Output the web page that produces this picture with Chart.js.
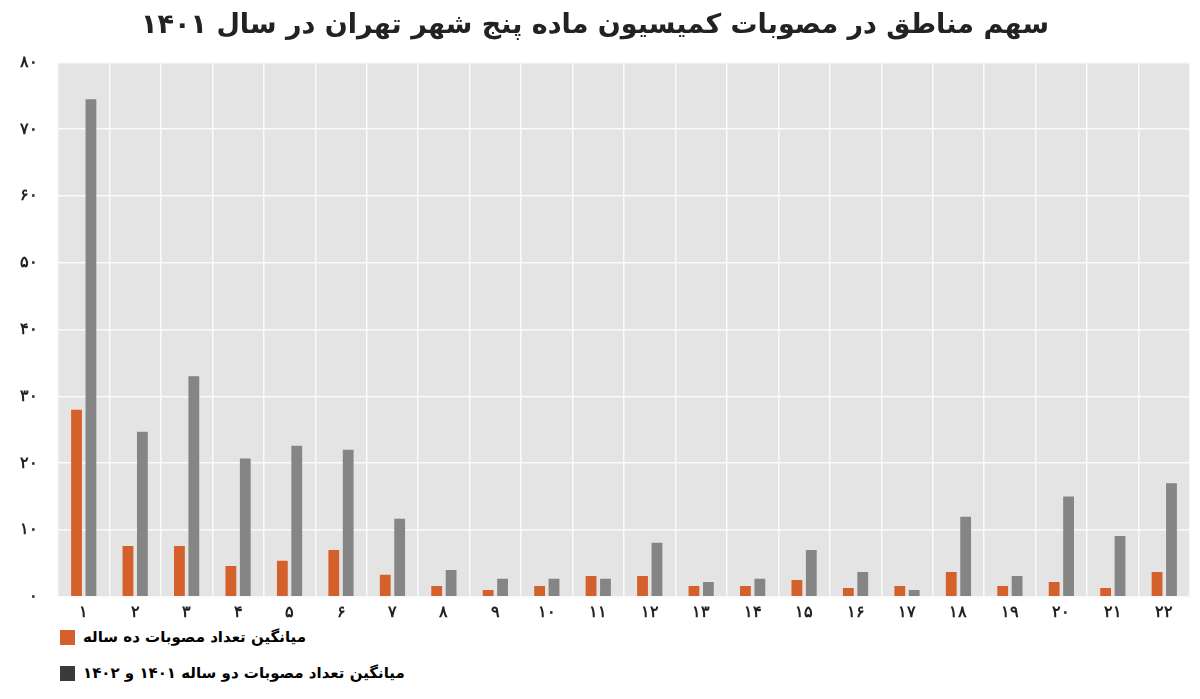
<!DOCTYPE html>
<html><head><meta charset="utf-8">
<script src="https://cdn.jsdelivr.net/npm/chart.js@4/dist/chart.umd.min.js"></script>
<style>
body{margin:0;background:#fff;font-family:"DejaVu Sans",sans-serif;}
#wrap{position:relative;width:1200px;height:628px;}
.lg{position:absolute;left:60px;font:bold 15px "DejaVu Sans";display:flex;align-items:center;direction:ltr}
.lg span.b{display:inline-block;width:15px;height:15px;margin-right:8px}
</style></head><body>
<div id="wrap"><canvas id="c" width="1200" height="628" style="width:1200px;height:628px"></canvas></div>
<div class="lg" style="top:628px"><span class="b" style="background:#d4602c"></span><span dir="rtl">میانگین تعداد مصوبات ده ساله</span></div>
<div class="lg" style="top:664px"><span class="b" style="background:#3a3a3a"></span><span dir="rtl">میانگین تعداد مصوبات دو ساله ۱۴۰۱ و ۱۴۰۲</span></div>
<script>
var regions = ["۱","۲","۳","۴","۵","۶","۷","۸","۹","۱۰","۱۱","۱۲","۱۳","۱۴","۱۵","۱۶","۱۷","۱۸","۱۹","۲۰","۲۱","۲۲"];
var tenYear = [28,7.6,7.6,4.6,5.4,7,3.3,1.6,1,1.6,3.1,3.1,1.6,1.6,2.5,1.3,1.6,3.7,1.6,2.2,1.3,3.7];
var twoYear = [74.5,24.7,33,20.7,22.6,22,11.7,4,2.7,2.7,2.7,8.1,2.2,2.7,7,3.7,1,12,3.1,15,9.1,17];
var fa = function(n){return String(n).replace(/\d/g,function(d){return "۰۱۲۳۴۵۶۷۸۹"[d];});};

var bgPlugin = {
  id: "bg",
  beforeDraw: function(chart) {
    var a = chart.chartArea, ctx = chart.ctx;
    ctx.save();
    ctx.fillStyle = "#e4e4e4";
    ctx.fillRect(a.left, a.top, a.right - a.left, a.bottom - a.top);
    ctx.restore();
  }
};

new Chart("c", {
  type: "bar",
  data: {
    labels: regions,
    datasets: [
      {label: "ده ساله", data: tenYear, backgroundColor: "#d4602c", categoryPercentage: 0.56, barPercentage: 0.75},
      {label: "دو ساله", data: twoYear, backgroundColor: "#858585", categoryPercentage: 0.56, barPercentage: 0.75}
    ]
  },
  options: {
    responsive: false,
    animation: false,
    devicePixelRatio: 1,
    layout: {padding: {left: 0, right: 10, bottom: 0}},
    plugins: {
      legend: {display: false},
      tooltip: {enabled: false},
      title: {
        display: true,
        text: "سهم مناطق در مصوبات کمیسیون ماده پنج شهر تهران در سال ۱۴۰۱",
        color: "#222",
        font: {size: 27, weight: "bold", family: "DejaVu Sans"},
        padding: {top: 10, bottom: 20}
      }
    },
    scales: {
      x: {
        grid: {color: "#fafafa", lineWidth: 1.5, offset: true, drawTicks: false},
        border: {display: false},
        ticks: {color: "#222", font: {size: 16, weight: "bold"}, padding: 6, autoSkip: false, maxRotation: 0}
      },
      y: {
        min: 0, max: 80,
        grid: {color: "#fafafa", lineWidth: 1.5, drawTicks: false},
        border: {display: false},
        ticks: {stepSize: 10, color: "#222", font: {size: 16, weight: "bold"}, padding: 20,
                callback: function(v){return fa(v);}}
      }
    }
  },
  plugins: [bgPlugin]
});
</script>
</body></html>
